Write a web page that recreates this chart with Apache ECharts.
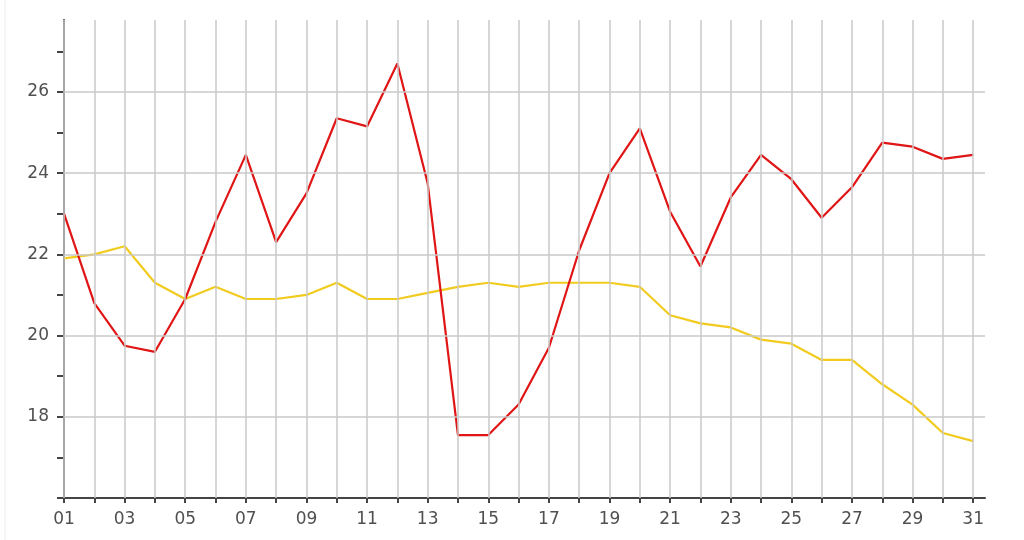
<!DOCTYPE html>
<html>
<head>
<meta charset="utf-8">
<script src="https://cdn.jsdelivr.net/npm/echarts@6/dist/echarts.min.js"></script>
<style>html,body{margin:0;padding:0;background:#fff}#c{width:1024px;height:540px}</style>
</head>
<body>
<div id="c"></div>
<script>
const days = [1,2,3,4,5,6,7,8,9,10,11,12,13,14,15,16,17,18,19,20,21,22,23,24,25,26,27,28,29,30,31];
const xLabelDays = [1,3,5,7,9,11,13,15,17,19,21,23,25,27,29,31];
const yTicks = [16,17,18,19,20,21,22,23,24,25,26,27];
const yLabels = [18,20,22,24,26];
const redSeries = [23.0,20.8,19.75,19.6,20.9,22.8,24.45,22.3,23.5,25.35,25.15,26.7,23.75,17.55,17.55,18.3,19.7,22.1,24.0,25.1,23.05,21.7,23.4,24.45,23.85,22.9,23.65,24.75,24.65,24.35,24.45];
const yellowSeries = [21.9,22.0,22.2,21.3,20.9,21.2,20.9,20.9,21.0,21.3,20.9,20.9,21.05,21.2,21.3,21.2,21.3,21.3,21.3,21.2,20.5,20.3,20.2,19.9,19.8,19.4,19.4,18.8,18.3,17.6,17.4];

const chart = echarts.init(document.getElementById('c'), null, {renderer:'canvas'});
const font = 'DejaVu Sans';
const gridStyle = {color:'#c8c8c8', width:1.5, type:'solid'};
chart.setOption({
  animation:false,
  backgroundColor:'#ffffff',
  graphic:[{type:'line', shape:{x1:5, y1:0, x2:5, y2:540}, style:{stroke:'#ececec', lineWidth:1}, silent:true}],
  grid:{left:64, right:39, top:20, bottom:42},
  xAxis:{
    type:'value', min:1, max:31.39, interval:1,
    axisLine:{show:true, onZero:false, lineStyle:{color:'#444', width:2}},
    axisTick:{show:true, length:5, customValues:days, lineStyle:{color:'#444', width:2}},
    axisLabel:{customValues:xLabelDays, margin:13, color:'#505050', fontFamily:font, fontSize:17,
      formatter:v=>String(v).padStart(2,'0')},
    splitLine:{show:false}
  },
  yAxis:{
    type:'value', min:16, max:27.77, interval:1,
    axisLine:{show:true, onZero:false, lineStyle:{color:'#444', width:2}},
    axisTick:{show:true, length:7, customValues:yTicks, lineStyle:{color:'#444', width:2}},
    axisLabel:{customValues:yLabels, margin:15, color:'#505050', fontFamily:font, fontSize:17},
    splitLine:{show:false}
  },
  series:[
    {type:'line', data:[], z:0, silent:true,
      markLine:{silent:true, symbol:'none', label:{show:false}, lineStyle:gridStyle, animation:false,
        data: days.map(d=>({xAxis:d})).concat(yLabels.map(v=>({yAxis:v})))}},
    {type:'line', z:2, data:days.map((d,i)=>[d,yellowSeries[i]]), showSymbol:false, symbol:'none',
      lineStyle:{color:'#f2cb1f', width:2.2}},
    {type:'line', z:3, data:days.map((d,i)=>[d,redSeries[i]]), showSymbol:false, symbol:'none',
      lineStyle:{color:'#e01515', width:2.2}}
  ]
});
</script>
</body>
</html>
